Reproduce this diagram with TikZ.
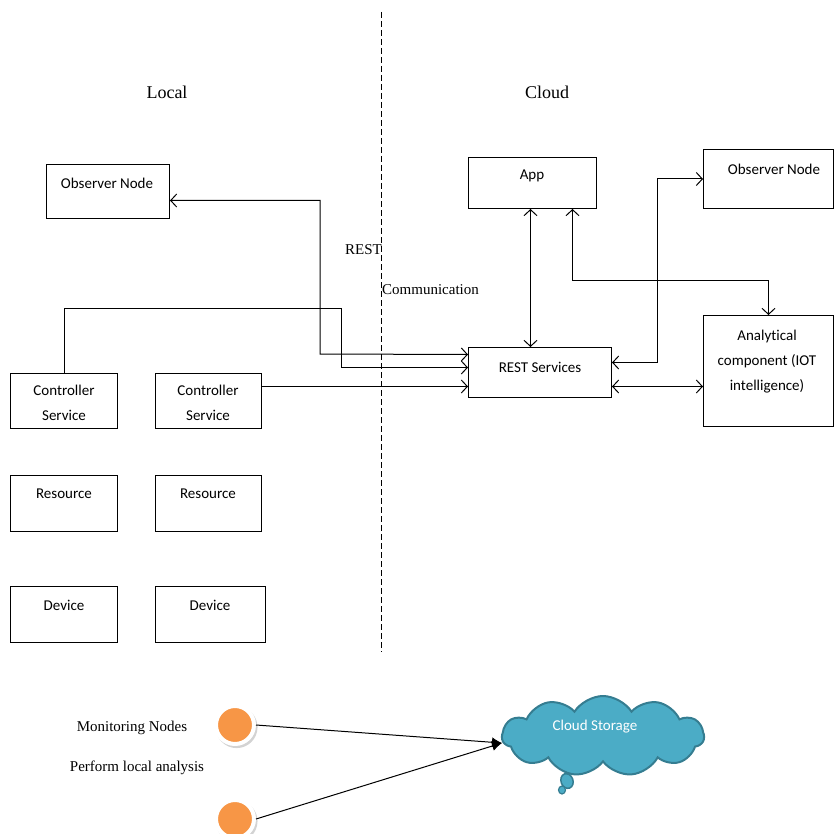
\documentclass[tikz,border=0pt]{standalone}
\usepackage{fontspec}
\setmainfont{Liberation Serif}
\newfontfamily\boxfont[Ligatures=NoCommon]{Carlito}
\usetikzlibrary{arrows.meta,shapes.symbols,shapes.geometric,shadows}

\definecolor{cloudfill}{HTML}{4BACC6}
\definecolor{cloudline}{HTML}{357D91}
\definecolor{dotfill}{HTML}{F79646}

\tikzset{
  box/.style={draw, line width=1pt, inner sep=0pt, anchor=north west},
  lbl/.style={font=\boxfont\fontsize{15}{25}\selectfont, align=center, inner sep=0pt},
  serif/.style={font=\fontsize{15}{18}\selectfont, inner sep=0pt},
  head/.style={font=\fontsize{18}{21}\selectfont, inner sep=0pt},
  link/.style={line width=1pt, >={Straight Barb[length=6pt,width=13pt]}},
  feed/.style={line width=1pt, -{Latex[length=10pt,width=10pt]}},
  dot/.style={circle, minimum size=38pt, inner sep=0pt, fill=dotfill, draw=white,
              line width=4pt, drop shadow={opacity=0.35, shadow scale=1.1,
              shadow xshift=1.5pt, shadow yshift=-2pt}},
}

\begin{document}
\begin{tikzpicture}[x=1pt, y=-1pt]
\useasboundingbox (0,0) rectangle (834,834);

% boundary between the local and the cloud side
\coordinate (divtop) at (381,12);
\coordinate (divbot) at (381,652);
\draw[line width=0.8pt, dash pattern=on 6pt off 3pt] (divtop) -- (divbot);

\node[head] (hlocal) at (167,92) {Local};
\node[head] (hcloud) at (547,92) {Cloud};
\node[serif, anchor=east] (trest) at (382,250) {REST};
\node[serif, anchor=west] (tcomm) at (382,290) {Communication};

% local side
\node[box, minimum width=123, minimum height=54] (obsL) at (46,164) {};
\node[lbl] (obsLt) at (107,183) {Observer Node};
\node[box, minimum width=107, minimum height=55] (cs1) at (10,373) {};
\node[lbl] (cs1t) at (64,402.5) {Controller\\Service};
\node[box, minimum width=106, minimum height=55] (cs2) at (155,373) {};
\node[lbl] (cs2t) at (208,402.5) {Controller\\Service};
\node[box, minimum width=107, minimum height=56] (res1) at (10,475) {};
\node[lbl] (res1t) at (64,494) {Resource};
\node[box, minimum width=106, minimum height=56] (res2) at (155,475) {};
\node[lbl] (res2t) at (208,494) {Resource};
\node[box, minimum width=107, minimum height=56] (dev1) at (10,586) {};
\node[lbl] (dev1t) at (64,605) {Device};
\node[box, minimum width=110, minimum height=56] (dev2) at (155,586) {};
\node[lbl] (dev2t) at (210,605) {Device};

% cloud side
\node[box, minimum width=128, minimum height=51] (app) at (468,157) {};
\node[lbl] (appt) at (532,176) {App};
\node[box, minimum width=130, minimum height=59] (obsR) at (703,149) {};
\node[lbl] (obsRt) at (774,169) {Observer Node};
\node[box, minimum width=143, minimum height=50] (rest) at (468,347) {};
\node[lbl] (restt) at (540,367) {REST Services};
\node[box, minimum width=130, minimum height=111] (ana) at (703,315) {};
\node[lbl] (anat) at (767,362) {Analytical\\component (IOT\\intelligence)};

% connectors into REST Services
\coordinate (rin1) at ([yshift=18pt]rest.west);
\coordinate (rin2) at ([yshift=5pt]rest.west);
\coordinate (rin3) at ([yshift=-14pt]rest.west);
\draw[link,<->] ([yshift=-9pt]obsL.east) -| (320,354) -- (rin1);
\draw[link,->] ([xshift=0.5pt]cs1.north) |- (341,308) |- (rin2);
\draw[link,->] (cs2.east |- rin3) -- (rin3);

% connectors on the cloud side
\draw[link,<->] ([xshift=-2pt]app.south) -- ([xshift=-2pt]app.south |- rest.north);
\draw[link,<->] ([xshift=40pt]app.south) |- ([yshift=35pt]ana.north) -- (ana.north);
\draw[link,<->] ([yshift=10pt]rest.east) -| ([xshift=-46pt]obsR.west) -- (obsR.west);
\coordinate (rout) at ([yshift=-14pt]rest.east);
\draw[link,<->] (rout) -- (ana.west |- rout);

% monitoring nodes feeding cloud storage
\node[serif] (tmon) at (132,728) {Monitoring Nodes};
\node[serif] (tperf) at (137,768) {Perform local analysis};
\node[dot] (m1) at (235,725) {};
\node[dot] (m2) at (235,819) {};

\node[ellipse, minimum width=12pt, minimum height=15pt, inner sep=0pt, fill=cloudfill,
      draw=cloudline, line width=1.5pt, rotate=20] (bub1) at (567,781) {};
\node[ellipse, minimum width=7pt, minimum height=8pt, inner sep=0pt, fill=cloudfill,
      draw=cloudline, line width=1.2pt] (bub2) at (562,790) {};
\node[cloud, cloud puffs=11, cloud puff arc=115, aspect=2.5, minimum width=202pt,
      minimum height=80pt, fill=cloudfill, draw=cloudline, line width=2pt] (store) at (603,736) {};
\node[lbl, text=white] (storet) at (595,727) {Cloud Storage};

\coordinate (sin) at (502,743);
\draw[feed] (m1.east) -- (sin);
\draw[feed] (m2.east) -- (sin);
\end{tikzpicture}
\end{document}
